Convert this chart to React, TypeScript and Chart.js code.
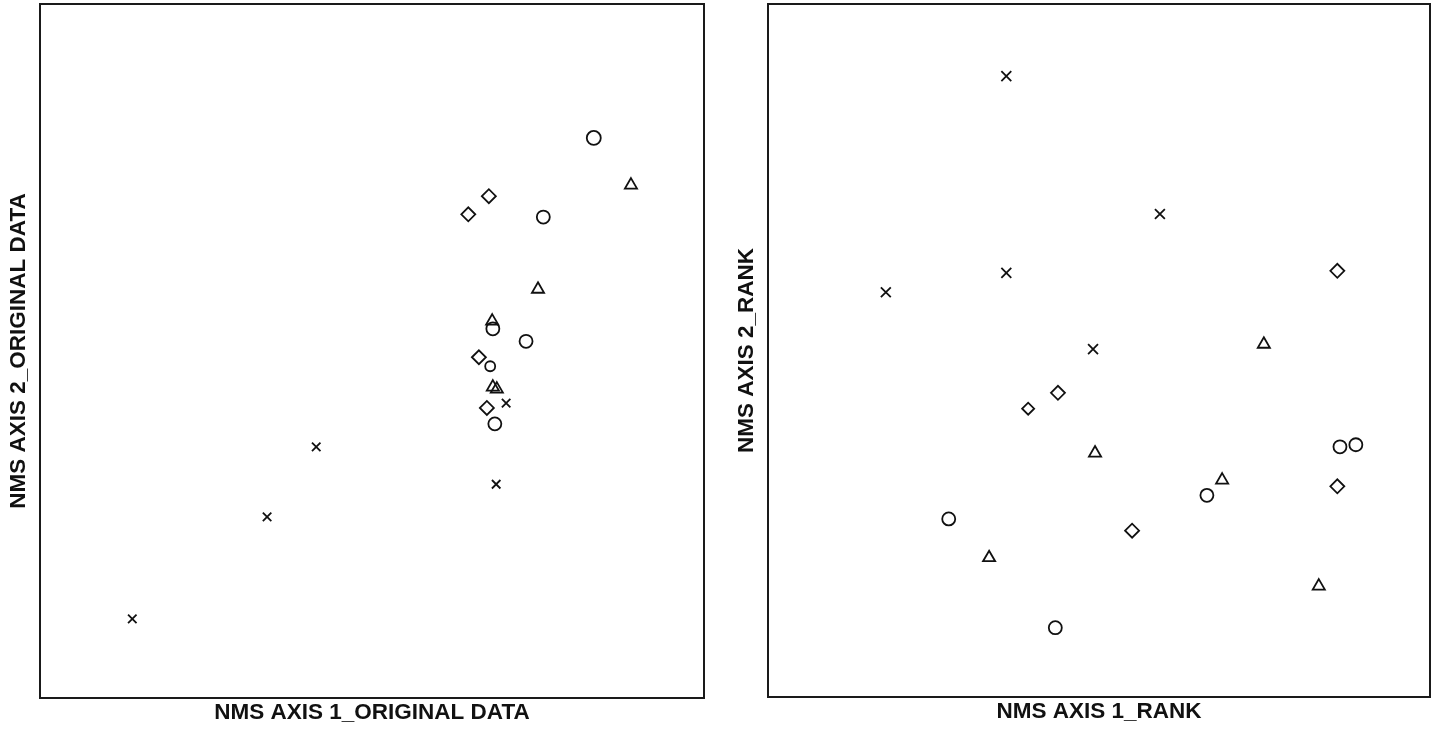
import React, { useEffect, useRef } from "react";
import { Chart, registerables } from "chart.js";

Chart.register(...registerables);

// ---------- Left panel: NMS ordination, original data (axis units 0..100) ----------
const L_CIRCLE_X = [83.4, 75.8, 73.2, 68.2, 67.8, 68.5];
const L_CIRCLE_Y = [80.7, 69.3, 51.4, 53.2, 47.8, 39.5];
const L_CIRCLE_R = [7, 6.5, 6.5, 6.5, 5, 6.5];

const L_TRIANGLE_X = [89.0, 75.0, 68.1, 68.2, 68.8];
const L_TRIANGLE_Y = [73.9, 58.9, 54.3, 44.8, 44.5];

const L_DIAMOND_X = [67.6, 64.5, 66.1, 67.3];
const L_DIAMOND_Y = [72.3, 69.7, 49.1, 41.8];

const L_CROSS_X = [13.9, 34.2, 41.6, 70.2, 68.7];
const L_CROSS_Y = [11.4, 26.1, 36.2, 42.5, 30.8];

// ---------- Right panel: NMS ordination, rank data (axis units 0..100) ----------
const R_CIRCLE_X = [86.4, 88.8, 66.3, 27.3, 43.4];
const R_CIRCLE_Y = [36.1, 36.4, 29.1, 25.7, 10.0];

const R_TRIANGLE_X = [74.9, 49.4, 68.6, 33.4, 83.2];
const R_TRIANGLE_Y = [50.9, 35.2, 31.3, 20.1, 16.0];

const R_DIAMOND_X = [86.0, 43.8, 39.3, 86.0, 55.0];
const R_DIAMOND_Y = [61.5, 43.9, 41.6, 30.4, 24.0];
const R_DIAMOND_R = [7, 7, 6, 7, 7];

const R_CROSS_X = [36.0, 59.2, 36.0, 17.8, 49.1];
const R_CROSS_Y = [89.6, 69.7, 61.2, 58.4, 50.2];

const AXIS_MIN = 0;
const AXIS_MAX = 100;

const L_X_TITLE = "NMS AXIS 1_ORIGINAL DATA";
const L_Y_TITLE = "NMS AXIS 2_ORIGINAL DATA";
const R_X_TITLE = "NMS AXIS 1_RANK";
const R_Y_TITLE = "NMS AXIS 2_RANK";

const zip = (xs: number[], ys: number[]) => xs.map((x, i) => ({ x, y: ys[i] }));

const INK = "#111111";

function makeSet(
  label: string,
  xs: number[],
  ys: number[],
  style: string,
  radius: number | number[]
) {
  return {
    label,
    data: zip(xs, ys),
    pointStyle: style,
    pointRadius: radius,
    pointHoverRadius: radius,
    pointBorderColor: INK,
    pointBackgroundColor: "rgba(255,255,255,0)",
    pointBorderWidth: 1.8,
    borderColor: INK,
    backgroundColor: "rgba(255,255,255,0)",
    showLine: false,
  };
}

const boxPlugin = {
  id: "frameBox",
  afterDraw(chart: any) {
    const { ctx, chartArea } = chart;
    const { left, top, right, bottom } = chartArea;
    ctx.save();
    ctx.strokeStyle = "#1a1a1a";
    ctx.lineWidth = 2;
    ctx.strokeRect(left, top, right - left, bottom - top);
    ctx.restore();
  },
};

const titleFont = {
  family: "'Liberation Sans', Arial, sans-serif",
  weight: "bold" as const,
  size: 22.5,
  lineHeight: 1.2,
};

type PanelProps = {
  width: number;
  height: number;
  datasets: any[];
  xTitle: string;
  yTitle: string;
  padTop: number;
  padRight: number;
  yScaleWidth: number;
  xScaleHeight: number;
  yTitlePad: number;
  xTitlePad: number;
};

function Panel(p: PanelProps) {
  const ref = useRef<HTMLCanvasElement | null>(null);
  useEffect(() => {
    if (!ref.current) return;
    const chart = new Chart(ref.current, {
      type: "scatter",
      data: { datasets: p.datasets },
      options: {
        responsive: false,
        animation: false,
        devicePixelRatio: 1,
        layout: {
          autoPadding: false,
          padding: { top: p.padTop, right: p.padRight, left: 0, bottom: 0 },
        },
        plugins: {
          legend: { display: false },
          tooltip: { enabled: false },
        },
        scales: {
          x: {
            type: "linear",
            min: AXIS_MIN,
            max: AXIS_MAX,
            grid: { display: false },
            border: { display: false },
            ticks: { display: false },
            title: {
              display: true,
              text: p.xTitle,
              color: INK,
              font: titleFont,
              padding: { top: 0, bottom: p.xTitlePad },
            },
            afterFit: (s: any) => {
              s.height = p.xScaleHeight;
            },
          },
          y: {
            type: "linear",
            min: AXIS_MIN,
            max: AXIS_MAX,
            grid: { display: false },
            border: { display: false },
            ticks: { display: false },
            title: {
              display: true,
              text: p.yTitle,
              color: INK,
              font: titleFont,
              padding: { top: p.yTitlePad, bottom: 0 },
            },
            afterFit: (s: any) => {
              s.width = p.yScaleWidth;
            },
          },
        },
      } as any,
      plugins: [boxPlugin],
    });
    return () => chart.destroy();
  }, []);
  return (
    <canvas
      ref={ref}
      width={p.width}
      height={p.height}
      style={{ width: p.width, height: p.height, display: "block" }}
    />
  );
}

export default function App() {
  const leftSets = [
    makeSet("Circle", L_CIRCLE_X, L_CIRCLE_Y, "circle", L_CIRCLE_R),
    makeSet("Triangle", L_TRIANGLE_X, L_TRIANGLE_Y, "triangle", 7),
    makeSet("Diamond", L_DIAMOND_X, L_DIAMOND_Y, "rectRot", 7),
    makeSet("Cross", L_CROSS_X, L_CROSS_Y, "crossRot", 6),
  ];
  const rightSets = [
    makeSet("Circle", R_CIRCLE_X, R_CIRCLE_Y, "circle", 6.5),
    makeSet("Triangle", R_TRIANGLE_X, R_TRIANGLE_Y, "triangle", 7),
    makeSet("Diamond", R_DIAMOND_X, R_DIAMOND_Y, "rectRot", R_DIAMOND_R),
    makeSet("Cross", R_CROSS_X, R_CROSS_Y, "crossRot", 7),
  ];
  return (
    <div
      style={{
        position: "absolute",
        left: 0,
        top: 0,
        width: 1438,
        height: 732,
        background: "#ffffff",
        overflow: "hidden",
      }}
    >
      <div style={{ position: "absolute", left: 0, top: 0 }}>
        <Panel
          width={720}
          height={732}
          datasets={leftSets}
          xTitle={L_X_TITLE}
          yTitle={L_Y_TITLE}
          padTop={4}
          padRight={16}
          yScaleWidth={40}
          xScaleHeight={34}
          yTitlePad={5}
          xTitlePad={5.3}
        />
      </div>
      <div style={{ position: "absolute", left: 720, top: 0 }}>
        <Panel
          width={718}
          height={732}
          datasets={rightSets}
          xTitle={R_X_TITLE}
          yTitle={R_Y_TITLE}
          padTop={4}
          padRight={8}
          yScaleWidth={48}
          xScaleHeight={35}
          yTitlePad={13}
          xTitlePad={6.3}
        />
      </div>
    </div>
  );
}
